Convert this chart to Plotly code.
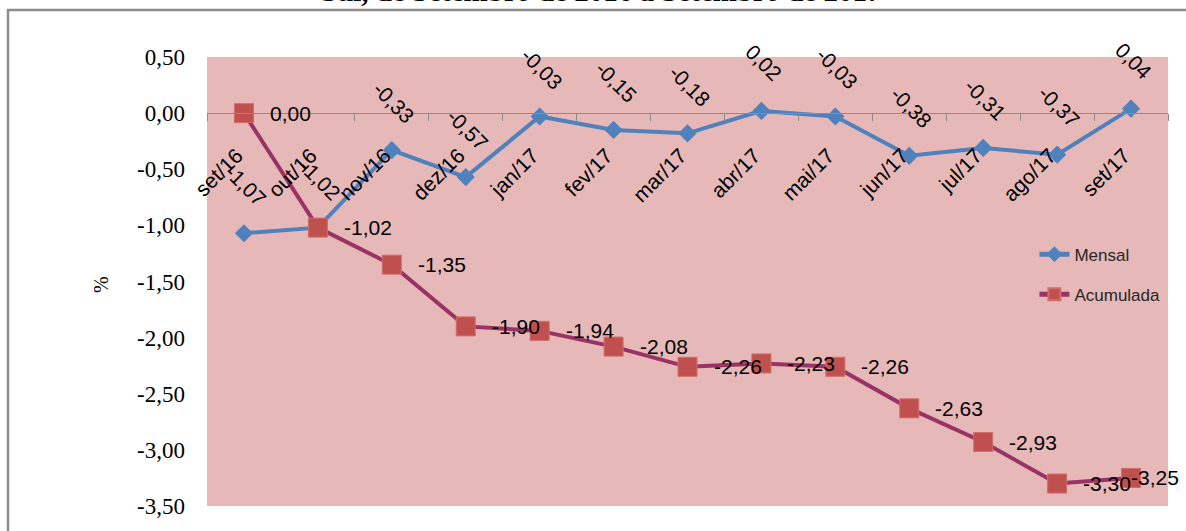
import plotly.graph_objects as go

categories = ["set/16", "out/16", "nov/16", "dez/16", "jan/17", "fev/17", "mar/17",
              "abr/17", "mai/17", "jun/17", "jul/17", "ago/17", "set/17"]
mensal = [-1.07, -1.02, -0.33, -0.57, -0.03, -0.15, -0.18, 0.02, -0.03, -0.38, -0.31, -0.37, 0.04]
acumulada = [0.00, -1.02, -1.35, -1.90, -1.94, -2.08, -2.26, -2.23, -2.26, -2.63, -2.93, -3.30, -3.25]
title_text = "Sul, de Setembro de 2016 a Setembro de 2017"
y_ticks = [0.5, 0.0, -0.5, -1.0, -1.5, -2.0, -2.5, -3.0, -3.5]

SANS = "Liberation Sans"
SERIF = "Liberation Serif"

def fmt(v):
    return f"{v:.2f}".replace(".", ",")

fig = go.Figure()
fig.add_trace(go.Scatter(
    x=categories, y=mensal, name="Mensal", mode="lines+markers",
    line=dict(color="#4F81BD", width=4),
    marker=dict(symbol="diamond", size=14, color="#4F81BD"),
    legendgroup="a",
))
fig.add_trace(go.Scatter(
    x=categories, y=acumulada, name="Acumulada", mode="lines+markers",
    line=dict(color="#993366", width=4),
    marker=dict(symbol="square", size=19, color="#C0504D", line=dict(color="#CF6E6B", width=1)),
    legendgroup="b",
))

annotations = []
for c, v in zip(categories, mensal):
    annotations.append(dict(x=c, y=v, xref="x", yref="y", text=fmt(v), showarrow=False,
                            textangle=45, yshift=48, xshift=2,
                            font=dict(family=SANS, size=21, color="#000000")))
n = len(categories)
for i, (c, v) in enumerate(zip(categories, acumulada)):
    last = i == n - 1
    annotations.append(dict(x=c, y=v, xref="x", yref="y", text=fmt(v), showarrow=False,
                            xanchor="right" if last else "left", xshift=50 if last else 24,
                            font=dict(family=SANS, size=21, color="#000000")))
annotations.append(dict(x=-0.1246, y=0.493, xref="paper", yref="paper", text="%",
                        showarrow=False, textangle=-90,
                        font=dict(family=SERIF, size=20, color="#000000")))
annotations.append(dict(x=(601 - 207) / 961, y=(511 - 8) / 454, xref="paper", yref="paper",
                        text="<b>" + title_text + "</b>", showarrow=False,
                        xanchor="center", yanchor="bottom",
                        font=dict(family=SERIF, size=29, color="#000000")))

fig.update_layout(
    width=1186, height=531,
    margin=dict(l=207, r=18, t=57, b=20),
    paper_bgcolor="#FFFFFF",
    plot_bgcolor="#E6B8B7",
    showlegend=True,
    legend=dict(x=0.861, y=0.60, xanchor="left", yanchor="top",
                bgcolor="rgba(0,0,0,0)", font=dict(family=SANS, size=17, color="#262626"),
                tracegroupgap=15, itemsizing="constant", traceorder="grouped"),
    annotations=annotations,
    shapes=[dict(type="rect", xref="paper", yref="paper",
                 x0=(8 - 207) / 961, x1=1.05, y0=-0.2, y1=(511 - 9.5) / 454,
                 line=dict(color="#8C8C8C", width=2.5), fillcolor="rgba(0,0,0,0)", layer="below")],
)
fig.update_xaxes(
    type="category", range=[-0.5, 12.5], anchor="free", position=0.875,
    showline=True, linecolor="#8C8C8C", linewidth=1,
    ticks="outside", tickson="boundaries", ticklen=7, tickcolor="#8C8C8C",
    tickangle=-45, ticklabelstandoff=21, ticklabelshift=-7, showgrid=False, zeroline=False,
    tickfont=dict(family=SANS, size=21, color="#000000"),
)
fig.update_yaxes(
    range=[-3.5, 0.5], tickvals=y_ticks, ticktext=[fmt(v) for v in y_ticks],
    showgrid=False, zeroline=False,
    showline=False, ticks="", ticklabelstandoff=21,
    tickfont=dict(family=SERIF, size=23, color="#000000"),
)

fig.write_html("out.html", config={"displayModeBar": False},
               post_script="document.body.style.margin='0';document.body.style.overflow='hidden';")
